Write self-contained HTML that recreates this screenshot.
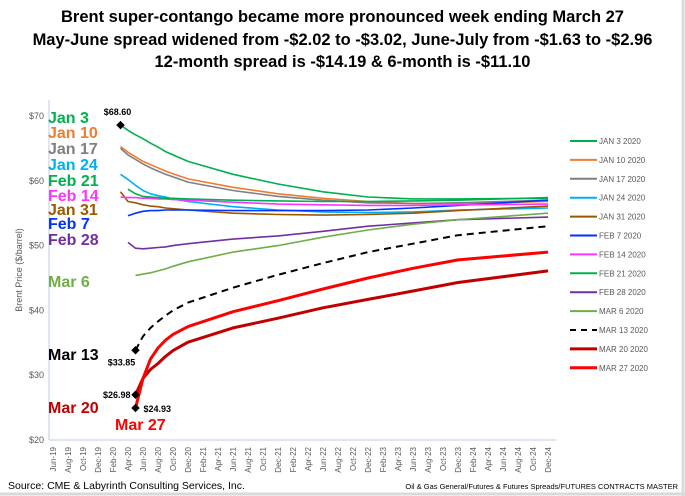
<!DOCTYPE html>
<html><head><meta charset="utf-8"><style>
body{margin:0;background:#fff;}
#wrap{position:relative;width:685px;height:496px;overflow:hidden;background:#fff;font-family:"Liberation Sans",sans-serif;}
.t{position:absolute;left:0;width:685px;text-align:center;font-weight:bold;font-size:16.5px;color:#000;}
</style></head><body>
<div id="wrap">
<div class="t" style="top:8px">Brent super-contango became more pronounced week ending March 27</div>
<div class="t" style="top:31px">May-June spread widened from -$2.02 to -$3.02, June-July from -$1.63 to -$2.96</div>
<div class="t" style="top:53px">12-month spread is -$14.19 &amp; 6-month is -$11.10</div>
<svg id="svg" width="685" height="496" style="position:absolute;left:0;top:0"></svg>
</div>
<script>
const months=["Jun","Jul","Aug","Sep","Oct","Nov","Dec","Jan","Feb","Mar","Apr","May"];
const monthCount=67; // Jun-19 .. Dec-24
const sampleMonths=[9,10,11,12,13,14,15,16,18,24,30,36,42,48,54,66];
const seriesNames=["JAN 3 2020","JAN 10 2020","JAN 17 2020","JAN 24 2020","JAN 31 2020","FEB 7 2020","FEB 14 2020","FEB 21 2020","FEB 28 2020","MAR 6 2020","MAR 13 2020","MAR 20 2020","MAR 27 2020"];
const jan3=[68.6,67.8,67.1,66.5,65.8,65.2,64.5,64.0,63.0,61.0,59.5,58.3,57.5,57.2,57.2,57.3];
const jan10=[65.3,64.4,63.7,63.0,62.5,62.0,61.5,61.1,60.3,59.0,58.0,57.3,56.8,56.5,56.5,56.8];
const jan17=[65.0,64.0,63.3,62.6,62.0,61.5,61.0,60.6,59.8,58.5,57.6,57.0,56.6,56.5,56.6,57.0];
const jan24=[61.0,60.2,59.3,58.5,58.0,57.7,57.5,57.2,56.8,56.0,55.5,55.2,55.1,55.2,55.5,55.8];
const jan31=[58.3,56.8,56.6,56.3,56.1,56.0,55.8,55.7,55.5,55.0,54.8,54.7,54.8,55.0,55.4,56.1];
const feb7=[null,54.6,55.0,55.3,55.4,55.4,55.5,55.5,55.5,55.4,55.4,55.4,55.5,55.8,56.2,57.0];
const feb14=[57.5,57.4,57.4,57.3,57.3,57.2,57.2,57.1,57.0,56.7,56.4,56.3,56.2,56.2,56.3,56.4];
const feb21=[null,58.7,58.0,57.6,57.5,57.4,57.3,57.3,57.2,57.0,56.9,56.8,56.8,56.9,57.0,57.4];
const feb28=[null,50.5,49.6,49.5,49.6,49.7,49.8,50.0,50.3,51.0,51.5,52.2,53.0,53.5,54.0,54.4];
const mar6=[null,null,45.4,45.6,45.8,46.1,46.4,46.8,47.5,49.0,50.0,51.3,52.4,53.3,54.0,55.0];
const mar13=[null,null,33.85,36.0,37.3,38.3,39.2,40.0,41.2,43.5,45.5,47.3,49.0,50.3,51.6,53.0];
const mar20=[null,null,26.98,29.5,30.9,31.8,32.9,33.8,35.1,37.3,38.8,40.4,41.7,43.0,44.3,46.1];
const mar27=[null,null,24.93,29.5,32.5,34.2,35.4,36.3,37.5,39.8,41.5,43.3,45.0,46.5,47.8,49.0];
const seriesValues=[jan3,jan10,jan17,jan24,jan31,feb7,feb14,feb21,feb28,mar6,mar13,mar20,mar27];
const colors=["#00b050","#ed7d31","#7f7f7f","#00b0f0","#9c5700","#0033ff","#ff33ff","#00b050","#7030a0","#70ad47","#000000","#c00000","#ff0000"];
const yTicks=[20,30,40,50,60,70];
const callouts=[{s:0,i:0,text:"$68.60",dx:-3,dy:-10,anchor:"middle"},{s:10,i:2,text:"$33.85",dx:-14,dy:15,anchor:"middle"},{s:11,i:2,text:"$26.98",dx:-5,dy:3,anchor:"end"},{s:12,i:2,text:"$24.93",dx:8,dy:4,anchor:"start"}];
const sideLabels=[["Jan 3",0,117],["Jan 10",1,132],["Jan 17",2,148],["Jan 24",3,164],["Feb 21",7,180],["Feb 14",6,195],["Jan 31",4,209],["Feb 7",5,223],["Feb 28",8,239],["Mar 6",9,281],["Mar 13",10,354],["Mar 20",11,407]];

const NS="http://www.w3.org/2000/svg";
const svg=document.getElementById('svg');
function mk(t,a,p){const e=document.createElementNS(NS,t);for(const k in a)e.setAttribute(k,a[k]);(p||svg).appendChild(e);return e;}
const X0=53,X1=548,Y0=440,Y1=116;
function xs(m){return X0+(X1-X0)*m/(monthCount-1);}
function ys(v){return Y0-(v-20)/(70-20)*(Y0-Y1);}

// frame borders
let e=mk('line',{x1:683,y1:0,x2:683,y2:496,stroke:"#d9d9d9","stroke-width":3});

e=mk('line',{x1:0,y1:494,x2:685,y2:494,stroke:"#d9d9d9","stroke-width":3});

// axes
e=mk('line',{x1:49,y1:100,x2:49,y2:Y0,stroke:"#c0cde0","stroke-width":1});

e=mk('line',{x1:49,y1:Y0,x2:556,y2:Y0,stroke:"#c0cde0","stroke-width":1});

yTicks.forEach(v=>{const t=mk('text',{x:44,y:ys(v)+3,"text-anchor":"end","font-size":"9","fill":"#595959"});t.textContent="$"+v;
});
e=mk('text',{x:0,y:0,transform:"translate(22,270) rotate(-90)","text-anchor":"middle","font-size":"9","fill":"#595959"});e.textContent="Brent  Price  ($/barrel)";

for(let m=0;m<monthCount;m+=2){const name=months[m%12]+"-"+(19+Math.floor((m+5)/12));
const t=mk('text',{x:0,y:0,transform:`translate(${xs(m)+3},447) rotate(-90)`,"text-anchor":"end","font-size":"8","fill":"#595959"});t.textContent=name;
}
// series
seriesValues.forEach((vals,si)=>{const pts=[];vals.forEach((v,i)=>{if(v!==null)pts.push(xs(sampleMonths[i]).toFixed(1)+","+ys(v).toFixed(1));});
const a={points:pts.join(" "),fill:"none",stroke:colors[si],"stroke-width":si>=11?3:(si==10?2:1.6),"stroke-linejoin":"round"};
if(si==10)a["stroke-dasharray"]="7,5";
const p=mk('polyline',a);
});
callouts.forEach(c=>{const v=seriesValues[c.s][c.i];const x=xs(sampleMonths[c.i]),y=ys(v);
const d=mk('rect',{x:x-3,y:y-3,width:6,height:6,fill:"#000",transform:`rotate(45 ${x} ${y})`});

const t=mk('text',{x:x+c.dx,y:y+c.dy,"text-anchor":c.anchor,"font-size":"9","font-weight":"bold","fill":"#000"});t.textContent=c.text;
});
sideLabels.forEach(l=>{const t=mk('text',{x:48,y:l[2]+6,"font-size":"16","font-weight":"bold","fill":colors[l[1]]});t.textContent=l[0];
});
e=mk('text',{x:115,y:430,"font-size":"16","font-weight":"bold","fill":"#ff0000"});e.textContent="Mar 27";

// legend
seriesNames.forEach((n,i)=>{const y=141+i*18.9;
const a={x1:570,y1:y,x2:597,y2:y,stroke:colors[i],"stroke-width":i>=11?3:2};if(i==10)a["stroke-dasharray"]="6,5";
const l=mk('line',a);
const t=mk('text',{x:599,y:y+3,"font-size":"8","fill":"#595959"});t.textContent=n;
});
e=mk('text',{x:8,y:489,"font-size":"10.5","fill":"#000"});e.textContent="Source: CME & Labyrinth Consulting Services, Inc.";

e=mk('text',{x:678,y:489,"text-anchor":"end","font-size":"7.5","fill":"#000"});e.textContent="Oil & Gas General/Futures & Futures Spreads/FUTURES CONTRACTS MASTER";

</script>
</body></html>
